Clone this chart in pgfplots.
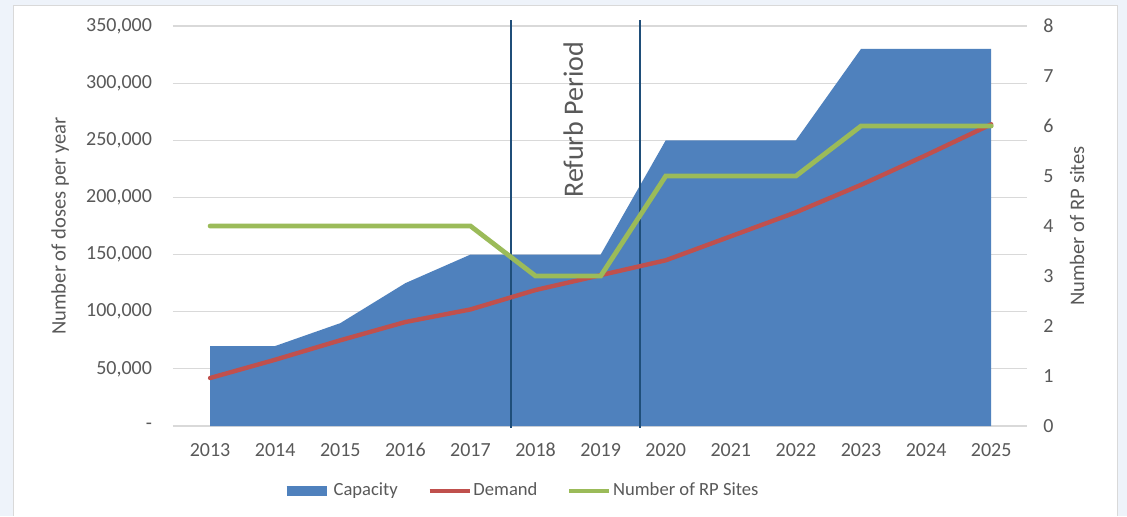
\documentclass[border=0pt]{standalone}
\usepackage{fontspec}
\setmainfont{Carlito}
\usepackage{pgfplots}
\pgfplotsset{compat=1.18}
\definecolor{capblue}{HTML}{4F81BD}
\definecolor{demred}{HTML}{C0504D}
\definecolor{rpgreen}{HTML}{9BBB59}
\definecolor{txtgray}{HTML}{595959}
\definecolor{gridgray}{HTML}{D9D9D9}
\definecolor{refblue}{HTML}{1F4E79}
\definecolor{framebg}{HTML}{EEF3FA}

\begin{document}
\begin{tikzpicture}
% outer frame
\fill[framebg] (-86.5pt,-45pt) rectangle (477pt,213pt);
\fill[white] (-79.5pt,-45pt) rectangle (472pt,210.5pt);
\draw[gridgray, line width=0.5pt] (-79.5pt,-45pt) -- (-79.5pt,210.5pt) -- (472pt,210.5pt) -- (472pt,-45pt);
\useasboundingbox (-86.5pt,-45pt) rectangle (477pt,213pt);

\begin{axis}[
    scale only axis, width=427pt, height=200pt,
    at={(0,0)}, anchor=south west,
    xmin=2012.43, xmax=2025.55, ymin=0, ymax=350000,
    scaled y ticks=false,
    axis line style={draw=none}, tick style={draw=none},
    ymajorgrids, grid style={gridgray, line width=0.6pt},
    xtick={2013,2014,2015,2016,2017,2018,2019,2020,2021,2022,2023,2024,2025},
    xticklabels={2013,2014,2015,2016,2017,2018,2019,2020,2021,2022,2023,2024,2025},
    ytick={0,50000,100000,150000,200000,250000,300000,350000},
    yticklabels={{-\hspace{4pt}},{50,000},{100,000},{150,000},{200,000},{250,000},{300,000},{350,000}},
    tick label style={font=\fontsize{10}{12}\selectfont, text=txtgray},
    x tick label style={yshift=-5pt},
    y tick label style={xshift=-7pt},
    ylabel={Number of doses per year},
    every axis y label/.style={at={(axis description cs:-0.1323,0.5)}, anchor=center, rotate=90,
        font=\fontsize{10.3}{12}\selectfont, text=txtgray},
    clip=false,
]
% capacity area
\addplot[fill=capblue, draw=none] coordinates {
    (2013,70000) (2014,70000) (2015,90000) (2016,125000) (2017,150000)
    (2018,150000) (2019,150000) (2020,250000) (2021,250000) (2022,250000)
    (2023,330000) (2024,330000) (2025,330000)
} \closedcycle;
% refurb period markers
\draw[refblue, line width=0.8pt] (axis cs:2017.62,-1500) -- (axis cs:2017.62,355000);
\draw[refblue, line width=0.8pt] (axis cs:2019.6,-1500) -- (axis cs:2019.6,355000);
\node[rotate=90, text=txtgray, font=\fontsize{14}{16}\selectfont] at (axis cs:2018.58,268000) {Refurb Period};
% demand
\addplot[demred, line width=2.2pt, line cap=round, line join=round] coordinates {
    (2013,42000) (2014,58000) (2015,75000) (2016,91000) (2017,102000)
    (2018,119000) (2019,132000) (2020,145000) (2021,166000) (2022,187000)
    (2023,211000) (2024,237000) (2025,264000)
};
\end{axis}

\begin{axis}[
    scale only axis, width=427pt, height=200pt,
    at={(0,0)}, anchor=south west,
    xmin=2012.43, xmax=2025.55, ymin=0, ymax=8,
    axis y line*=right, axis x line=none,
    axis line style={draw=none}, tick style={draw=none},
    ytick={0,1,2,3,4,5,6,7,8},
    yticklabels={0,1,2,3,4,5,6,7,8},
    tick label style={font=\fontsize{10}{12}\selectfont, text=txtgray},
    y tick label style={xshift=4.7pt},
    ylabel={Number of RP sites},
    every axis y label/.style={at={(axis description cs:1.0585,0.5)}, anchor=center, rotate=90,
        font=\fontsize{10.3}{12}\selectfont, text=txtgray},
    legend style={at={(0.4075,-0.1625)}, anchor=center, draw=none, fill=none,
        legend columns=3, font=\fontsize{9.3}{11}\selectfont, text=txtgray,
        nodes={inner sep=1pt},
        /tikz/every even column/.append style={column sep=14pt}},
    legend image code/.code={\draw[#1] (0pt,0pt) -- (20pt,0pt);},
    clip=false,
]
\addlegendimage{capblue, line width=5pt}
\addlegendentry{Capacity}
\addlegendimage{demred, line width=1.8pt}
\addlegendentry{Demand}
\addlegendimage{rpgreen, line width=1.8pt}
\addlegendentry{Number of RP Sites}
\addplot[rpgreen, line width=2.4pt, line cap=round, forget plot] coordinates {
    (2013,4) (2014,4) (2015,4) (2016,4) (2017,4) (2018,3) (2019,3)
    (2020,5) (2021,5) (2022,5) (2023,6) (2024,6) (2025,6)
};
\end{axis}
\end{tikzpicture}
\end{document}
